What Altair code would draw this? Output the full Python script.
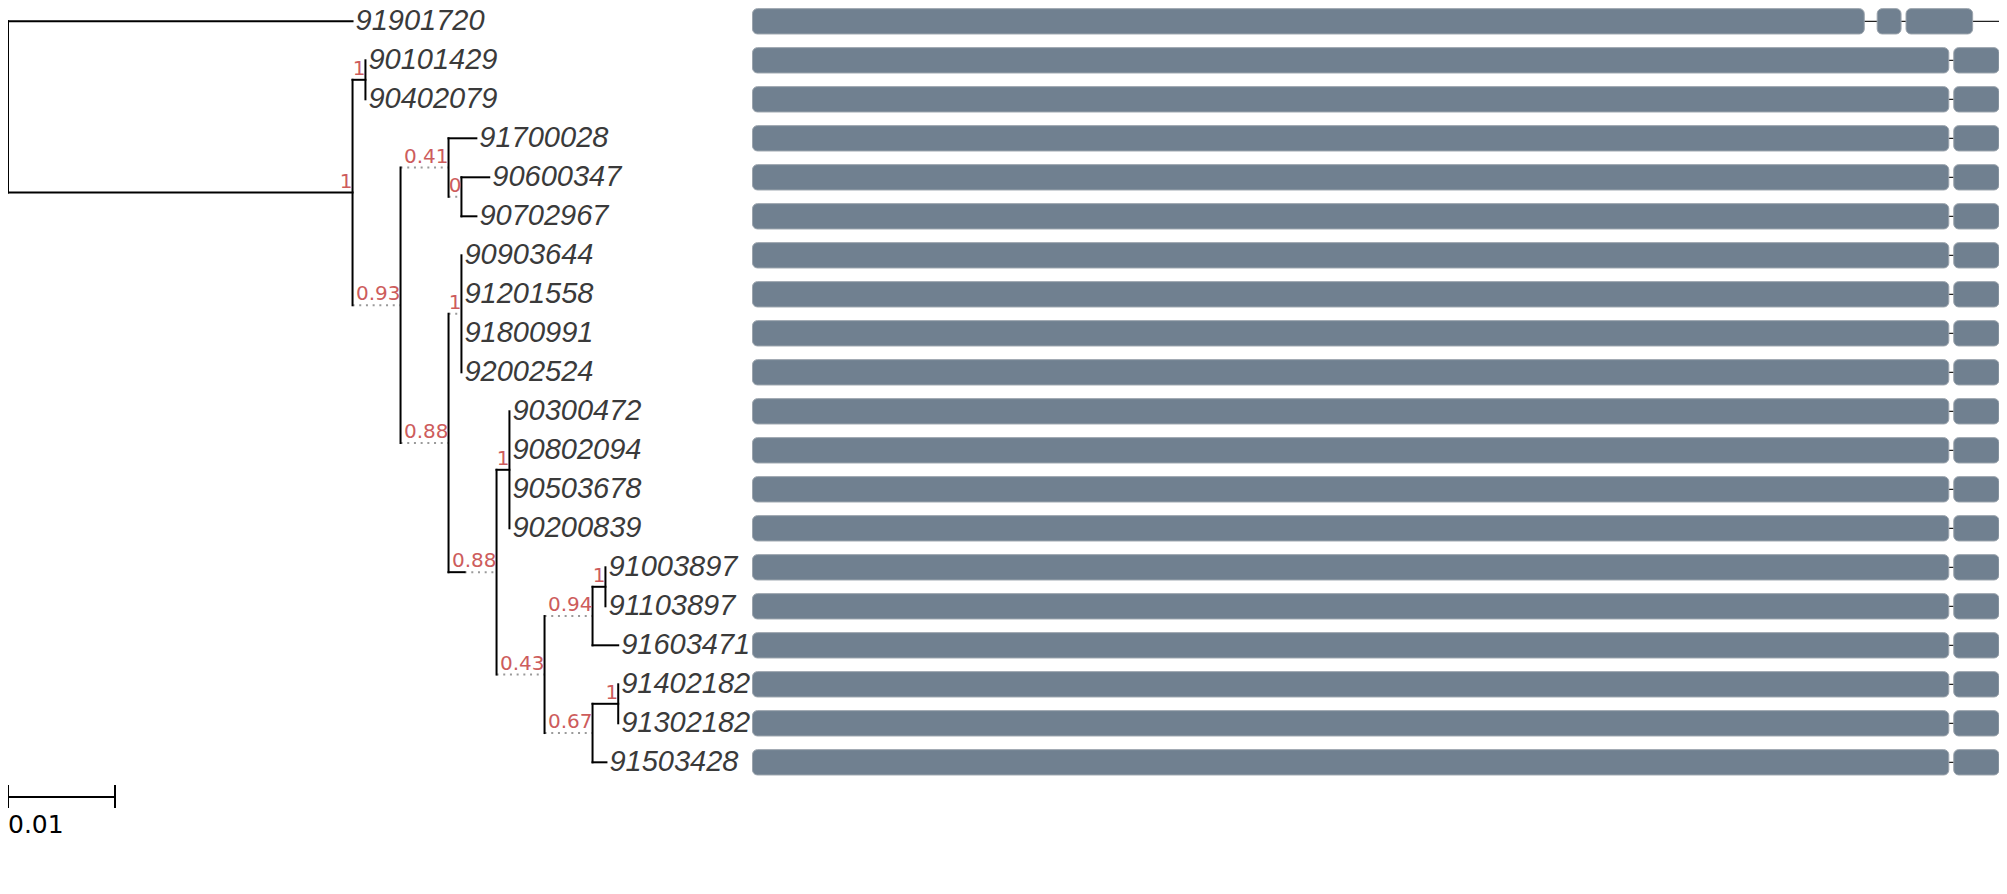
import altair as alt
import pandas as pd

# ---------------- data ----------------
leaf_names = ["91901720", "90101429", "90402079", "91700028", "90600347",
              "90702967", "90903644", "91201558", "91800991", "92002524",
              "90300472", "90802094", "90503678", "90200839", "91003897",
              "91103897", "91603471", "91402182", "91302182", "91503428"]
leaf_parent = ["root", "n1", "n1", "n3", "n4", "n4", "n6", "n6", "n6", "n6",
               "n8", "n8", "n8", "n8", "n11", "n11", "n10", "n13", "n13", "n12"]
leaf_length = [0.0322, 0.0, 0.0, 0.0026, 0.0026, 0.0014, 0.0, 0.0, 0.0, 0.0,
               0.0, 0.0, 0.0, 0.0, 0.0, 0.0, 0.0024, 0.0, 0.0, 0.0013]

internal_names = ["n0", "n1", "n2", "n3", "n4", "n5", "n6", "n7", "n8", "n9",
                  "n10", "n11", "n12", "n13"]
internal_parent = ["root", "n0", "n0", "n2", "n3", "n2", "n5", "n5", "n7", "n7",
                   "n9", "n10", "n9", "n12"]
internal_length = [0.0322, 0.0012, 0.0, 0.0, 0.0, 0.0, 0.0, 0.0015, 0.0012, 0.0,
                   0.0, 0.0012, 0.0, 0.0024]
internal_support = ["1", "1", "0.93", "0.41", "0", "0.88", "1", "0.88", "1",
                    "0.43", "0.94", "1", "0.67", "1"]

scale_bar_length = 0.01
scale_bar_label = "0.01"

# sequence blocks (alignment columns) per row
outgroup_block_start = [0, 1131, 1160]
outgroup_block_end = [1118, 1155, 1227]
outgroup_span = 1290
ingroup_block_start = [0, 1208]
ingroup_block_end = [1203, 1253.5]
ingroup_span = 1253.5

# ---------------- layout ----------------
W, H = 1991, 870
PX_PER_UNIT = 10700.0
ROW_PX = 39.0
TOP_PX = 13.3
y_top = -TOP_PX / ROW_PX
y_bottom = y_top + H / ROW_PX


def text_px(s):
    return 11.7 * len(s) + 1.2


parent, blen, support = {}, {}, {}
for n, p, b in zip(leaf_names, leaf_parent, leaf_length):
    parent[n], blen[n] = p, b
for n, p, b, s in zip(internal_names, internal_parent, internal_length, internal_support):
    parent[n], blen[n], support[n] = p, b, s
children = {}
for n, p in parent.items():
    children.setdefault(p, []).append(n)

ypos = {n: float(i) for i, n in enumerate(leaf_names)}


def gety(n):
    if n in ypos:
        return ypos[n]
    ys = [gety(c) for c in children[n]]
    ypos[n] = (min(ys) + max(ys)) / 2
    return ypos[n]


gety("root")
xpos = {"root": 0.0}


def setx(n):
    for c in children.get(n, []):
        ext = text_px(support[c]) / PX_PER_UNIT if c in support else 0.0
        xpos[c] = xpos[n] + max(blen[c], ext)
        setx(c)


setx("root")

solid, dotted, vert, sup = [], [], [], []
for c, p in parent.items():
    x0 = xpos[p]
    x1 = x0 + blen[c]
    if blen[c] > 0:
        solid.append({"x": x0, "x2": x1, "y": ypos[c]})
    if xpos[c] - x1 > 0.5 / PX_PER_UNIT:
        dotted.append({"x": x1, "x2": xpos[c], "y": ypos[c]})
    if c in support:
        sup.append({"x": xpos[c], "y": ypos[c], "label": support[c]})
for n, ch in children.items():
    ys = [ypos[c] for c in ch]
    vert.append({"x": xpos[n], "y": min(ys), "y2": max(ys)})

leaves = pd.DataFrame({"name": leaf_names,
                       "x": [xpos[n] for n in leaf_names],
                       "y": [ypos[n] for n in leaf_names]})

blocks, spans = [], []
for i, n in enumerate(leaf_names):
    if i == 0:
        st, en, sp = outgroup_block_start, outgroup_block_end, outgroup_span
    else:
        st, en, sp = ingroup_block_start, ingroup_block_end, ingroup_span
    for a, b in zip(st, en):
        blocks.append({"row": float(i), "s": a, "e": b})
    spans.append({"row": float(i), "s": 0, "e": sp})

scalebar = pd.DataFrame({"x": [0.0], "x2": [scale_bar_length], "label": [scale_bar_label]})
scaleticks = pd.DataFrame({"x": [0.0, scale_bar_length]})

# ---------------- scales ----------------
tx = alt.Scale(domain=[0, W / PX_PER_UNIT], nice=False, zero=False)
bar_px = (1999 - 752.5) / ingroup_span
bx0 = -(752.5 - 8) / bar_px
bx = alt.Scale(domain=[bx0, bx0 + W / bar_px], nice=False, zero=False)
ys = alt.Scale(domain=[y_top, y_bottom], reverse=True, nice=False, zero=False)

X = lambda f, s: alt.X(f, type="quantitative", scale=s, axis=None)
Y = lambda f: alt.Y(f, type="quantitative", scale=ys, axis=None)

solid_l = alt.Chart(pd.DataFrame(solid)).mark_rule(
    color="black", strokeWidth=2, strokeCap="square").encode(
    x=X("x", tx), x2="x2", y=Y("y"))
dotted_l = alt.Chart(pd.DataFrame(dotted)).mark_rule(
    color="#9a9a9a", strokeWidth=2, strokeDash=[2, 4.7]).encode(
    x=X("x", tx), x2="x2", y=Y("y"))
vert_l = alt.Chart(pd.DataFrame(vert)).mark_rule(
    color="black", strokeWidth=2, strokeCap="square").encode(
    x=X("x", tx), y=Y("y"), y2="y2")
leaf_t = alt.Chart(leaves).mark_text(
    align="left", baseline="middle", dx=3, font="Liberation Sans",
    fontStyle="italic", fontSize=29, color="#3a3a3a").encode(
    x=X("x", tx), y=Y("y"), text="name")
sup_t = alt.Chart(pd.DataFrame(sup)).mark_text(
    align="right", baseline="alphabetic", dy=-5, font="DejaVu Sans",
    fontSize=20, color="#cd5c5c").encode(
    x=X("x", tx), y=Y("y"), text="label")

sb_line = alt.Chart(scalebar).mark_rule(color="black", strokeWidth=2).encode(
    x=X("x", tx), x2="x2", y=alt.value(789))
sb_ticks = alt.Chart(scaleticks).mark_rule(color="black", strokeWidth=2).encode(
    x=X("x", tx), y=alt.value(777), y2=alt.value(800))
sb_text = alt.Chart(scalebar).mark_text(
    align="left", baseline="alphabetic", font="DejaVu Sans", fontSize=25,
    color="black").encode(x=X("x", tx), y=alt.value(825), text="label")

span_l = alt.Chart(pd.DataFrame(spans)).mark_rule(
    color="#222222", strokeWidth=1.2, clip=True).encode(
    x=X("s", bx), x2="e", y=Y("row"))
block_r = alt.Chart(pd.DataFrame(blocks)).transform_calculate(
    y0="datum.row - 0.325", y1="datum.row + 0.325").mark_rect(
    color="#708090", stroke="#9ba4ad", strokeWidth=1, cornerRadius=5).encode(
    x=X("s", bx), x2="e", y=Y("y0:Q"), y2="y1:Q")

chart = alt.layer(
    span_l, block_r, dotted_l, solid_l, vert_l, sup_t, leaf_t,
    sb_line, sb_ticks, sb_text
).resolve_scale(x="independent").properties(
    width=W, height=H, padding=0,
    autosize=alt.AutoSizeParams(type="none")
).configure_view(stroke=None)

chart.save("out.html", embed_options={"renderer": "svg", "actions": False})
